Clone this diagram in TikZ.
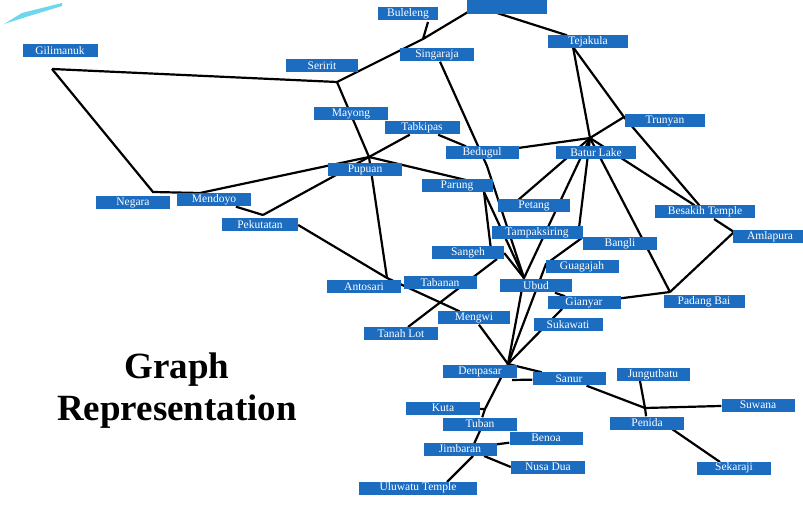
\documentclass[tikz,border=0pt]{standalone}
\usepackage{fontspec}
\setmainfont{Liberation Serif}
\usepackage{tikz}
\usetikzlibrary{backgrounds}
\definecolor{placeblue}{RGB}{28,108,192}
\definecolor{swoosh}{RGB}{110,215,240}

\begin{document}
\begin{tikzpicture}[x=1pt,y=-1pt,
        place/.style={fill=placeblue,text=white,font=\fontsize{11.5}{12}\selectfont,
            minimum width=74pt,minimum height=13pt,inner sep=0pt},
        road/.style={line width=2.2pt,black}]
        \useasboundingbox (0,0) rectangle (803,510);

        \node[place,minimum width=75pt] (gilimanuk) at (60,51) {Gilimanuk};
        \node[place,minimum width=60pt] (buleleng) at (408,14) {Buleleng};
        \node[place,minimum width=80pt,minimum height=18pt] (topbox) at (507,5) {};
        \node[place,minimum width=72pt] (seririt) at (322,66) {Seririt};
        \node[place] (singaraja) at (437,55) {Singaraja};
        \node[place,minimum width=80pt] (tejakula) at (588,42) {Tejakula};
        \node[place,minimum width=80pt] (trunyan) at (665,121) {Trunyan};
        \node[place] (mayong) at (351,114) {Mayong};
        \node[place,minimum width=75pt] (tabkipas) at (422,128) {Tabkipas};
        \node[place,minimum width=73pt] (bedugul) at (482,153) {Bedugul};
        \node[place,minimum width=80pt] (batur) at (596,153) {Batur Lake};
        \node[place] (pupuan) at (365,170) {Pupuan};
        \node[place] (negara) at (133,203) {Negara};
        \node[place] (mendoyo) at (214,200) {Mendoyo};
        \node[place,minimum width=76pt] (pekutatan) at (260,225) {Pekutatan};
        \node[place,minimum width=71pt] (parung) at (457,186) {Parung};
        \node[place,minimum width=72pt] (petang) at (534,206) {Petang};
        \node[place,minimum width=100pt] (besakih) at (705,212) {Besakih Temple};
        \node[place,minimum width=91pt] (tampaksiring) at (537,233) {Tampaksiring};
        \node[place] (bangli) at (620,244) {Bangli};
        \node[place,minimum width=75pt] (amlapura) at (770,237) {Amlapura};
        \node[place,minimum width=72pt] (sangeh) at (468,253) {Sangeh};
        \node[place,minimum width=73pt] (guagajah) at (582,267) {Guagajah};
        \node[place,minimum width=73pt] (tabanan) at (440,283) {Tabanan};
        \node[place] (antosari) at (364,287) {Antosari};
        \node[place,minimum width=72pt] (ubud) at (536,286) {Ubud};
        \node[place,minimum width=73pt] (gianyar) at (584,303) {Gianyar};
        \node[place,minimum width=81pt] (padangbai) at (704,302) {Padang Bai};
        \node[place,minimum width=72pt] (mengwi) at (474,318) {Mengwi};
        \node[place,minimum width=69pt] (sukawati) at (568,325) {Sukawati};
        \node[place] (tanahlot) at (401,334) {Tanah Lot};
        \node[place] (denpasar) at (480,372) {Denpasar};
        \node[place,minimum width=73pt] (sanur) at (569,379) {Sanur};
        \node[place,minimum width=73pt] (jungutbatu) at (653,375) {Jungutbatu};
        \node[place,minimum width=73pt] (suwana) at (758,405) {Suwana};
        \node[place] (penida) at (647,423) {Penida};
        \node[place] (sekaraji) at (734,468) {Sekaraji};
        \node[place] (kuta) at (443,408) {Kuta};
        \node[place] (tuban) at (480,424) {Tuban};
        \node[place,minimum width=73pt] (benoa) at (546,438) {Benoa};
        \node[place,minimum width=73pt] (jimbaran) at (460,449) {Jimbaran};
        \node[place] (nusadua) at (548,467) {Nusa Dua};
        \node[place,minimum width=118pt] (uluwatu) at (418,488) {Uluwatu Temple};

        \node[align=center,font=\fontsize{37}{42}\selectfont\bfseries] (title) at (177,391) {Graph\\Representation};

        \coordinate (gilimanuk-p) at (52,69);
        \coordinate (seririt-p) at (337,82);
        \coordinate (singaraja-p) at (423,39);
        \coordinate (buleleng-p) at (428,22);
        \coordinate (topbox-p) at (468,12);
        \coordinate (topbox-q) at (497,13);
        \coordinate (tejakula-p) at (573,47);
        \coordinate (trunyan-p) at (624,117);
        \coordinate (batur-p) at (590,138);
        \coordinate (bedugul-p) at (487,166);
        \coordinate (pupuan-p) at (369,157);
        \coordinate (negara-p) at (153,192);
        \coordinate (mendoyo-p) at (200,193);
        \coordinate (pekutatan-p) at (263,215);
        \coordinate (parung-p) at (470,181);
        \coordinate (parung-q) at (484,192);
        \coordinate (sangeh-p) at (491,250);
        \coordinate (sangeh-q) at (497,259);
        \coordinate (antosari-p) at (387,278);
        \coordinate (tanahlot-p) at (408,327);
        \coordinate (petang-p) at (517,201);
        \coordinate (tampaksiring-p) at (579,228);
        \coordinate (besakih-p) at (714,219);
        \coordinate (amlapura-p) at (734,232);
        \coordinate (padangbai-p) at (670,292);
        \coordinate (guagajah-p) at (546,264);
        \coordinate (ubud-p) at (524,278);
        \coordinate (gianyar-p) at (562,309);
        \coordinate (denpasar-p) at (508,364);
        \coordinate (denpasar-q) at (512,380);
        \coordinate (jungutbatu-p) at (640,381);
        \coordinate (penida-p) at (645,408);
        \coordinate (penida-q) at (672,429);
        \coordinate (sekaraji-p) at (720,462);
        \coordinate (tuban-p) at (485,409);
        \coordinate (jimbaran-p) at (474,444);
        \coordinate (jimbaran-q) at (484,456);
        \coordinate (jimbaran-r) at (473,456);
        \coordinate (uluwatu-p) at (447,482);

        \begin{pgfonlayer}{background}
        \fill[white] (0,0) rectangle (803,510);
        \fill[swoosh] (4,24) -- (22,13) -- (62,3) -- (62,6) -- (26,17) -- cycle;
        \draw[road] (gilimanuk-p) -- (seririt-p);
        \draw[road] (gilimanuk-p) -- (negara-p) -- (mendoyo-p) -- (pupuan-p);
        \draw[road] (seririt-p) -- (singaraja-p) -- (topbox-p);
        \draw[road] (buleleng-p) -- (singaraja-p);
        \draw[road] (topbox-q) -- (tejakula);
        \draw[road] (tejakula-p) -- (batur-p);
        \draw[road] (tejakula-p) -- (trunyan-p) -- (batur-p);
        \draw[road] (trunyan-p) -- (besakih);
        \draw[road] (seririt-p) -- (pupuan-p);
        \draw[road] (singaraja) -- (bedugul-p) -- (ubud-p);
        \draw[road] (batur-p) -- (bedugul);
        \draw[road] (tabkipas) -- (bedugul);
        \draw[road] (tabkipas) -- (pupuan-p);
        \draw[road] (pupuan-p) -- (pekutatan-p);
        \draw[road] (mendoyo) -- (pekutatan-p);
        \draw[road] (pupuan-p) -- (parung-p);
        \draw[road] (pupuan-p) -- (antosari-p);
        \draw[road] (pekutatan.east) -- (antosari-p) -- (mengwi);
        \draw[road] (sangeh-q) -- (tanahlot-p);
        \draw[road] (parung-q) -- (sangeh-p);
        \draw[road] (parung-q) -- (ubud-p);
        \draw[road] (sangeh.east) -- (ubud-p);
        \draw[road] (batur-p) -- (petang-p);
        \draw[road] (batur-p) -- (ubud-p);
        \draw[road] (batur-p) -- (tampaksiring-p);
        \draw[road] (batur-p) -- (padangbai-p);
        \draw[road] (batur-p) -- (besakih);
        \draw[road] (besakih-p) -- (amlapura-p) -- (padangbai-p);
        \draw[road] (gianyar) -- (padangbai-p);
        \draw[road] (bangli.north west) -- (guagajah-p) -- (denpasar-p);
        \draw[road] (ubud-p) -- (denpasar-p);
        \draw[road] (ubud) -- (gianyar);
        \draw[road] (gianyar-p) -- (denpasar-p);
        \draw[road] (mengwi) -- (denpasar-p);
        \draw[road] (denpasar-p) -- (sanur);
        \draw[road] (denpasar-q) -- (sanur);
        \draw[road] (sanur) -- (penida-p);
        \draw[road] (jungutbatu-p) -- (penida-p) -- (suwana);
        \draw[road] (penida-p) -- (penida);
        \draw[road] (penida-q) -- (sekaraji-p);
        \draw[road] (denpasar-p) -- (tuban-p) -- (tuban);
        \draw[road] (kuta) -- (tuban-p);
        \draw[road] (tuban.south) -- (jimbaran-p);
        \draw[road] (jimbaran) -- (benoa);
        \draw[road] (jimbaran-q) -- (nusadua.west);
        \draw[road] (jimbaran-r) -- (uluwatu-p);
        \end{pgfonlayer}
\end{tikzpicture}
\end{document}
